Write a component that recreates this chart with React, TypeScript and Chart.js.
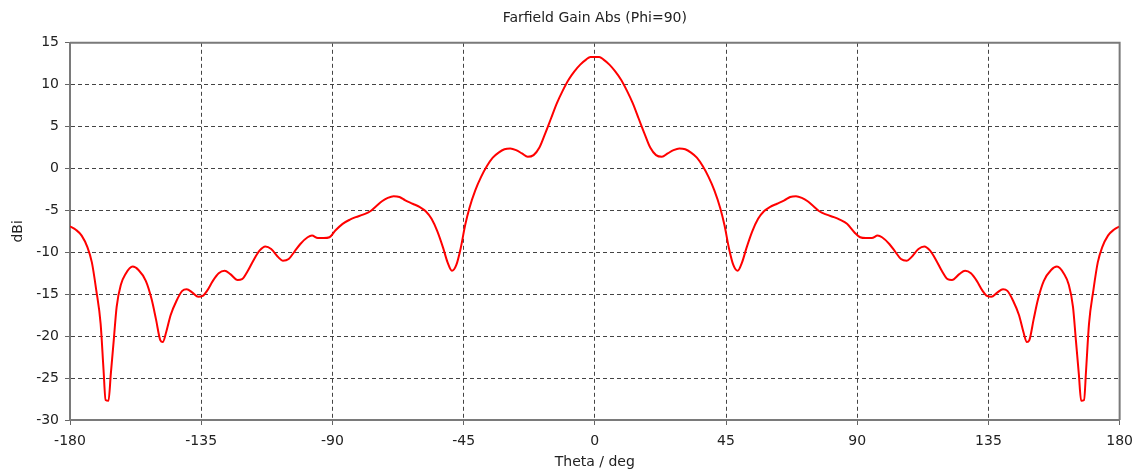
import React, { useEffect, useRef } from "react";
import { Chart, registerables } from "chart.js";

Chart.register(...registerables);

const TITLE = "Farfield Gain Abs (Phi=90)";
const X_LABEL = "Theta / deg";
const Y_LABEL = "dBi";
const X_TICKS = [-180, -135, -90, -45, 0, 45, 90, 135, 180];
const Y_TICKS = [-30, -25, -20, -15, -10, -5, 0, 5, 10, 15];

const thetaDeg = [
  -180, -178, -176, -174, -172.5, -171, -169.5, -168.5, -167.8, -166.8,
  -166, -165, -164, -162.5, -161, -158.5, -156.5, -154, -152, -150.5,
  -149, -148.2, -147, -145.5, -143.5, -141.5, -140, -138, -136, -134.5,
  -133, -131, -129, -127, -125, -122.5, -121, -119, -117, -115,
  -113, -111, -108.5, -107, -105, -103, -101, -98.5, -97, -95,
  -93, -91, -89, -86.5, -84, -82, -79.5, -77, -75, -73,
  -71, -69, -67, -65, -62.5, -60, -58, -56, -54, -52,
  -50.5, -49, -47.5, -46, -44.5, -43, -41, -39, -37, -35,
  -33, -31, -29, -27, -25, -23, -21, -19, -17, -15,
  -13, -11, -9, -7, -5, -3, -1.5, 0, 1.5, 3,
  5, 7, 9, 11, 13, 15, 17, 19, 21, 23,
  25, 27, 29, 31, 33, 35, 37, 39, 41, 43,
  44.5, 46, 47.5, 49, 50.5, 52, 54, 56, 58, 60,
  62.5, 65, 67, 69, 71, 73, 75, 77, 79.5, 82,
  84, 86.5, 89, 91, 93, 95, 97, 98.5, 101, 103,
  105, 107, 108.5, 111, 113, 115, 117, 119, 121, 122.5,
  125, 127, 129, 131, 133, 134.5, 136, 138, 140, 141.5,
  143.5, 145.5, 147, 148.2, 149, 150.5, 152, 154, 156.5, 158.5,
  161, 162.5, 164, 165, 166, 166.8, 167.8, 168.5, 169.5, 171,
  172.5, 174, 176, 178, 180,
];

const gainDbi = [
  -6.9, -7.3, -8.0, -9.4, -11.2, -14.5, -18.5, -24.0, -27.6, -27.7,
  -24.5, -20.5, -16.5, -13.8, -12.6, -11.7, -12.1, -13.4, -15.6, -18.0,
  -20.5, -20.7, -19.5, -17.5, -15.8, -14.6, -14.4, -14.8, -15.3, -15.2,
  -14.6, -13.4, -12.5, -12.2, -12.6, -13.3, -13.2, -12.2, -10.9, -9.8,
  -9.3, -9.6, -10.6, -11.0, -10.8, -9.9, -9.0, -8.2, -8.0, -8.3,
  -8.3, -8.2, -7.4, -6.6, -6.1, -5.8, -5.5, -5.1, -4.5, -3.9,
  -3.5, -3.3, -3.4, -3.8, -4.2, -4.6, -5.1, -6.0, -7.5, -9.5,
  -11.2, -12.2, -11.5, -9.5, -6.8, -4.7, -2.6, -1.0, 0.3, 1.3,
  1.9, 2.3, 2.4, 2.2, 1.8, 1.4, 1.6, 2.5, 4.2, 6.0,
  7.8, 9.3, 10.6, 11.6, 12.4, 13.0, 13.3, 13.3, 13.3, 13.0,
  12.4, 11.6, 10.6, 9.3, 7.8, 6.0, 4.2, 2.5, 1.6, 1.4,
  1.8, 2.2, 2.4, 2.3, 1.9, 1.3, 0.3, -1.0, -2.6, -4.7,
  -6.8, -9.5, -11.5, -12.2, -11.2, -9.5, -7.5, -6.0, -5.1, -4.6,
  -4.2, -3.8, -3.4, -3.3, -3.5, -3.9, -4.5, -5.1, -5.5, -5.8,
  -6.1, -6.6, -7.6, -8.2, -8.3, -8.3, -8.0, -8.2, -9.0, -9.9,
  -10.8, -11.0, -10.6, -9.6, -9.3, -9.8, -10.9, -12.2, -13.2, -13.3,
  -12.6, -12.2, -12.5, -13.4, -14.6, -15.2, -15.3, -14.8, -14.4, -14.6,
  -15.8, -17.5, -19.5, -20.7, -20.5, -18.0, -15.6, -13.4, -12.1, -11.7,
  -12.6, -13.8, -16.5, -20.5, -24.5, -27.7, -27.6, -24.0, -18.5, -14.5,
  -11.2, -9.4, -8.0, -7.3, -6.9,
];

const FONT = "'DejaVu Sans', Verdana, sans-serif";

export default function App() {
  const canvasRef = useRef<HTMLCanvasElement>(null);

  useEffect(() => {
    const canvas = canvasRef.current;
    if (!canvas) return;

    const framePlugin = {
      id: "frame",
      afterDraw(chart: any) {
        const { ctx, chartArea } = chart;
        ctx.save();
        ctx.strokeStyle = "#7a7a7a";
        ctx.lineWidth = 2;
        ctx.beginPath();
        ctx.moveTo(chartArea.left, chartArea.top);
        ctx.lineTo(chartArea.right, chartArea.top);
        ctx.lineTo(chartArea.right, chartArea.bottom);
        ctx.stroke();
        ctx.restore();
      },
    };

    const chart = new Chart(canvas, {
      type: "line",
      data: {
        datasets: [
          {
            label: "Gain",
            data: thetaDeg.map((t, i) => ({ x: t, y: gainDbi[i] })),
            borderColor: "#ff0000",
            backgroundColor: "#ff0000",
            borderWidth: 2,
            pointRadius: 0,
            cubicInterpolationMode: "monotone",
            fill: false,
          },
        ],
      },
      options: {
        responsive: false,
        animation: false,
        devicePixelRatio: 1,
        layout: { padding: { left: 0, right: 21, top: 0, bottom: 0 } },
        plugins: {
          legend: { display: false },
          tooltip: { enabled: false },
          title: {
            display: true,
            text: TITLE,
            fullSize: false,
            color: "#222",
            font: { family: FONT, size: 14, weight: "normal" },
            padding: { top: 10, bottom: 16 },
          },
        },
        scales: {
          x: {
            type: "linear",
            min: -180,
            max: 180,
            afterFit: (s: any) => {
              s.height = 55;
            },
            afterBuildTicks: (s: any) => {
              s.ticks = X_TICKS.map((v) => ({ value: v }));
            },
            ticks: {
              color: "#222",
              font: { family: FONT, size: 14 },
              padding: 8,
              maxRotation: 0,
              autoSkip: false,
            },
            grid: {
              color: "#444",
              lineWidth: 1,
              tickLength: 5,
              tickColor: "#666",
              tickBorderDash: [],
            },
            border: { display: true, color: "#7a7a7a", width: 2, dash: [4, 3] },
            title: {
              display: true,
              text: X_LABEL,
              color: "#222",
              font: { family: FONT, size: 14 },
              padding: { top: 0, bottom: 4 },
            },
          },
          y: {
            type: "linear",
            min: -30,
            max: 15,
            afterFit: (s: any) => {
              s.width = 70;
            },
            afterBuildTicks: (s: any) => {
              s.ticks = Y_TICKS.map((v) => ({ value: v }));
            },
            ticks: {
              color: "#222",
              font: { family: FONT, size: 14 },
              padding: 6,
              autoSkip: false,
            },
            grid: {
              color: "#444",
              lineWidth: 1,
              tickLength: 5,
              tickColor: "#666",
              tickBorderDash: [],
            },
            border: { display: true, color: "#7a7a7a", width: 2, dash: [4, 3] },
            title: {
              display: true,
              text: Y_LABEL,
              color: "#222",
              font: { family: FONT, size: 14 },
              padding: { top: 10, bottom: 0 },
            },
          },
        },
      },
      plugins: [framePlugin],
    });

    return () => {
      chart.destroy();
    };
  }, []);

  return (
    <div style={{ position: "absolute", left: 0, top: 0, width: 1141, height: 475, background: "#fff" }}>
      <canvas ref={canvasRef} width={1141} height={475} style={{ width: 1141, height: 475, display: "block" }} />
    </div>
  );
}
